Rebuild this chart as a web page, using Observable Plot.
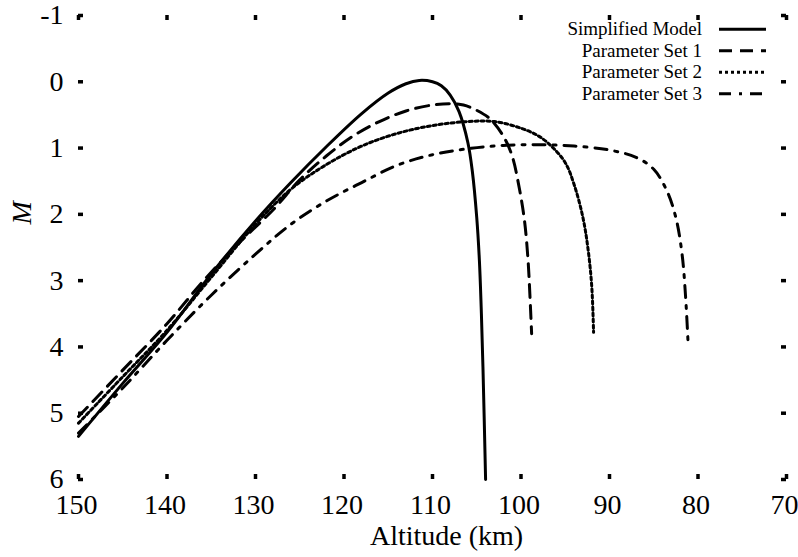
<!DOCTYPE html>
<html><head><meta charset="utf-8">
<script src="https://cdn.jsdelivr.net/npm/d3@7"></script>
<script src="https://cdn.jsdelivr.net/npm/@observablehq/plot@0.6"></script>
<style>body{margin:0;background:#fff}</style>
</head><body><div id="chart"></div>
<script>
// ---- data ----
const seriesNames = ["Simplified Model", "Parameter Set 1", "Parameter Set 2", "Parameter Set 3"];

const simplifiedAlt = [150, 145, 140, 135, 130, 126, 122, 118, 115, 113, 111.5, 110, 109, 108, 107, 106, 105.5, 105, 104.7, 104.5, 104.3, 104.0];
const simplifiedM   = [5.35, 4.55, 3.78, 2.9, 2.1, 1.52, 0.98, 0.48, 0.17, 0.03, -0.02, 0.0, 0.06, 0.2, 0.45, 0.92, 1.35, 2.05, 2.7, 3.4, 4.3, 6.0];

const set1Alt = [150, 145, 140, 136, 132, 128, 125, 122, 119, 116, 113, 110, 108, 106.5, 105, 103.5, 102, 101, 100.2, 99.6, 99.2, 99.0, 98.8];
const set1M   = [5.05, 4.35, 3.65, 3.02, 2.45, 1.93, 1.48, 1.12, 0.82, 0.6, 0.44, 0.35, 0.33, 0.35, 0.43, 0.56, 0.82, 1.12, 1.6, 2.1, 2.7, 3.2, 3.8];

const set2Alt = [150, 145, 140, 135, 130, 126, 122, 118, 114, 110, 106, 103, 100, 98, 96.5, 95, 94, 93, 92.4, 92, 91.8];
const set2M   = [5.15, 4.45, 3.75, 2.95, 2.15, 1.62, 1.25, 0.97, 0.78, 0.66, 0.6, 0.6, 0.7, 0.82, 0.98, 1.22, 1.55, 2.05, 2.55, 3.1, 3.78];

const set3Alt = [150, 145, 140, 135, 130, 126, 122, 118, 114, 110, 106, 102, 98, 94, 90, 87, 85, 83.5, 82.5, 81.8, 81.4, 81.1];
const set3M   = [5.3, 4.62, 3.9, 3.22, 2.6, 2.15, 1.8, 1.52, 1.26, 1.1, 1.01, 0.96, 0.95, 0.97, 1.03, 1.14, 1.32, 1.65, 2.05, 2.6, 3.25, 4.0];

const xTicks = [150, 140, 130, 120, 110, 100, 90, 80, 70];
const yTicks = [-1, 0, 1, 2, 3, 4, 5, 6];
const yTickLabels = ["-1", "0", "1", "2", "3", "4", "5", "6"];
const xLabel = "Altitude (km)";
const yLabel = "M";

// ---- styles ----
const dashes = ["none", "13,8", "3,3", "12,8,3,8"];
const seriesData = [
  [simplifiedAlt, simplifiedM],
  [set1Alt, set1M],
  [set2Alt, set2M],
  [set3Alt, set3M]
];
const rows = seriesData.flatMap(([alt, m], k) => alt.map((a, i) => ({series: seriesNames[k], alt: a, m: m[i]})));

const W = 798, H = 557, mL = 78, mR = 12, mT = 15, mB = 78;
const innerW = W - mL - mR, innerH = H - mT - mB;
const tickLen = 5;
const font = "'Liberation Serif', 'Times New Roman', serif";

const chart = Plot.plot({
  width: W, height: H,
  marginLeft: mL, marginRight: mR, marginTop: mT, marginBottom: mB,
  style: {fontFamily: font, background: "#fff", color: "#000", overflow: "visible"},
  x: {domain: [150, 70]},
  y: {domain: [6, -1]},
  marks: [
    Plot.axisX(xTicks, {anchor: "bottom", tickSize: 0, tickPadding: 15, fontSize: 28, dx: -2, label: null, tickFormat: d => String(d)}),
    Plot.axisY(yTicks, {anchor: "left", tickSize: 0, tickPadding: 15, fontSize: 28, label: null, tickFormat: d => yTickLabels[yTicks.indexOf(d)]}),
    Plot.ruleX(xTicks, {x: d => d, insetTop: innerH - tickLen, strokeWidth: 3.5}),
    Plot.ruleX(xTicks, {x: d => d, insetBottom: innerH - tickLen, strokeWidth: 3.5}),
    Plot.ruleY(yTicks, {y: d => d, insetRight: innerW - tickLen, strokeWidth: 3.5}),
    Plot.ruleY(yTicks, {y: d => d, insetLeft: innerW - tickLen, strokeWidth: 3.5}),
    ...seriesNames.map((name, k) => Plot.line(rows.filter(r => r.series === name), {
      x: "alt", y: "m", stroke: "#000", strokeWidth: 3,
      strokeDasharray: dashes[k], curve: "catmull-rom"
    })),
    Plot.text([xLabel], {frameAnchor: "bottom", lineAnchor: "middle", dx: 14, dy: 57, fontSize: 28, text: d => d}),
    Plot.text([yLabel], {frameAnchor: "left", lineAnchor: "middle", dx: -56, dy: -23, rotate: -90, fontSize: 28, fontStyle: "italic", text: d => d})
  ]
});

// legend (top right, inside the frame)
const svg = d3.select(chart);
const leg = svg.append("g").attr("font-family", font).attr("font-size", 19);
seriesNames.forEach((name, i) => {
  const y = 29.3 + i * 21.5;
  leg.append("text").attr("x", 702).attr("y", y).attr("dy", "0.32em")
    .attr("text-anchor", "end").attr("fill", "#000").text(name);
  leg.append("line").attr("x1", 719).attr("x2", 766).attr("y1", y).attr("y2", y)
    .attr("stroke", "#000").attr("stroke-width", 3)
    .attr("stroke-dasharray", dashes[i]);
});

document.getElementById("chart").appendChild(chart);
</script>
</body></html>
